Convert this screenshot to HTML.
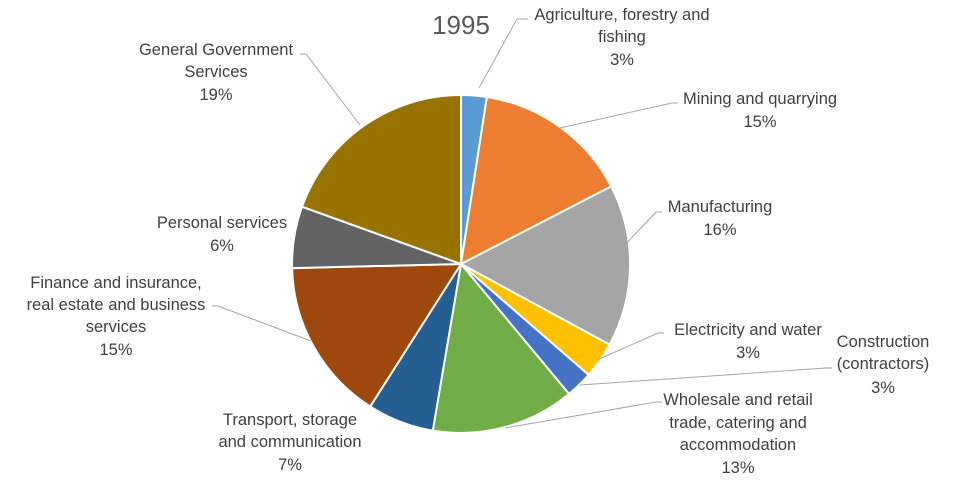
<!DOCTYPE html>
<html><head><meta charset="utf-8"><style>
html,body{margin:0;padding:0;background:#fff;}
svg text{font-family:"Liberation Sans",sans-serif;font-size:16.5px;fill:#404040;text-anchor:middle;}
</style></head><body>
<svg width="956" height="477" viewBox="0 0 956 477" xmlns="http://www.w3.org/2000/svg">
<text x="461" y="34" style="font-size:26px;fill:#595959">1995</text>
<g stroke="#fff" stroke-width="2" stroke-linejoin="round">
<path d="M461,264 L461,95 A169,169 0 0 1 486.9,97.0 Z" fill="#5B9BD5"/>
<path d="M461,264 L486.9,97.0 A169,169 0 0 1 611.2,186.4 Z" fill="#ED7D31"/>
<path d="M461,264 L611.2,186.4 A169,169 0 0 1 609.6,344.6 Z" fill="#A5A5A5"/>
<path d="M461,264 L609.6,344.6 A169,169 0 0 1 588.6,374.9 Z" fill="#FFC000"/>
<path d="M461,264 L588.6,374.9 A169,169 0 0 1 569.0,393.9 Z" fill="#4472C4"/>
<path d="M461,264 L569.0,393.9 A169,169 0 0 1 432.8,430.6 Z" fill="#70AD47"/>
<path d="M461,264 L432.8,430.6 A169,169 0 0 1 370.2,406.5 Z" fill="#255E91"/>
<path d="M461,264 L370.2,406.5 A169,169 0 0 1 292.1,268.1 Z" fill="#9E480E"/>
<path d="M461,264 L292.1,268.1 A169,169 0 0 1 302.0,206.7 Z" fill="#636363"/>
<path d="M461,264 L302.0,206.7 A169,169 0 0 1 461,95 Z" fill="#997300"/>
</g>
<g stroke="#A6A6A6" stroke-width="1" fill="none">
<polyline points="479,88 517,19 528,19"/>
<polyline points="560,128 672,103 678,103"/>
<polyline points="622,248 656,212 662,212"/>
<polyline points="597,360 658,333 664,333"/>
<polyline points="580,385 826,368 832,368"/>
<polyline points="505,428 656,402 662,402"/>
<polyline points="311,341 218,306 212,306"/>
<polyline points="360,125 306,54 300,54"/>
</g>
<text x="622" y="20">Agriculture, forestry and</text>
<text x="622" y="42">fishing</text>
<text x="622" y="65">3%</text>
<text x="760" y="104">Mining and quarrying</text>
<text x="760" y="127">15%</text>
<text x="720" y="212">Manufacturing</text>
<text x="720" y="235">16%</text>
<text x="748" y="335">Electricity and water</text>
<text x="748" y="358">3%</text>
<text x="883" y="347">Construction</text>
<text x="883" y="369">(contractors)</text>
<text x="883" y="393">3%</text>
<text x="738" y="405">Wholesale and retail</text>
<text x="738" y="428">trade, catering and</text>
<text x="738" y="450">accommodation</text>
<text x="738" y="473">13%</text>
<text x="290" y="425">Transport, storage</text>
<text x="290" y="447">and communication</text>
<text x="290" y="470">7%</text>
<text x="116" y="288">Finance and insurance,</text>
<text x="116" y="310">real estate and business</text>
<text x="116" y="332">services</text>
<text x="116" y="355">15%</text>
<text x="222" y="228">Personal services</text>
<text x="222" y="251">6%</text>
<text x="216" y="55">General Government</text>
<text x="216" y="77">Services</text>
<text x="216" y="100">19%</text>
</svg>
</body></html>
